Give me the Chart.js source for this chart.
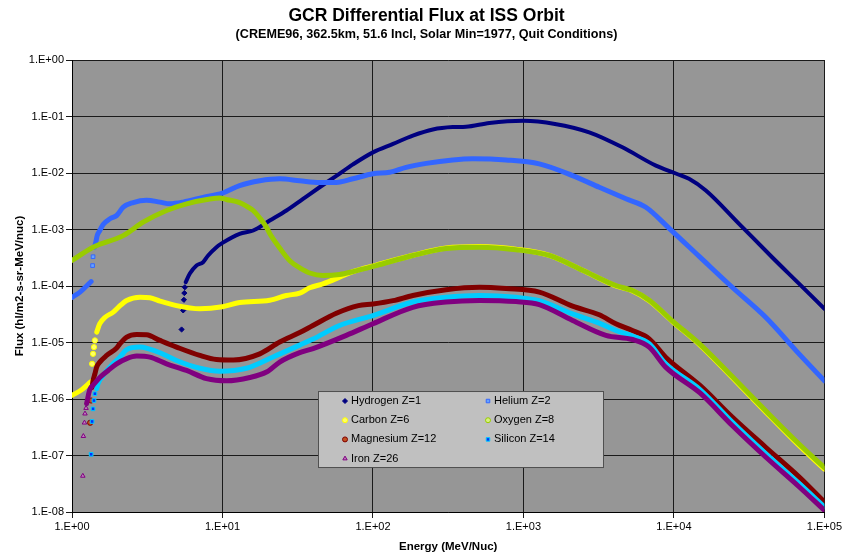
<!DOCTYPE html>
<html>
<head>
<meta charset="utf-8">
<title>GCR Differential Flux at ISS Orbit</title>
<script src="https://cdn.jsdelivr.net/npm/chart.js@4.4.1/dist/chart.umd.min.js"></script>
<style>
  html, body { margin: 0; padding: 0; background: #fff; }
  #wrap { width: 844px; height: 555px; position: relative; }
</style>
</head>
<body>
<div id="wrap"><canvas id="chart"></canvas></div>
<script>
// [energy MeV/nuc, flux] pairs
const hydrogenSparse = [[5.35, 1.7e-5], [5.48, 3.7e-5], [5.54, 5.7e-5], [5.58, 7.5e-5], [5.62, 9.5e-5]];
const hydrogen = [
    [5.70, 1.17e-4], [6.07, 1.66e-4], [6.72, 2.31e-4], [7.43, 2.64e-4], [8.03, 3.47e-4], [9.12, 4.87e-4],
    [10, 5.8e-4], [13, 8.4e-4], [16, 9.6e-4], [20.6, 1.44e-3], [26.6, 2.17e-3], [34.3, 3.49e-3],
    [44.2, 5.6e-3], [57.1, 8.9e-3], [73.6, 1.42e-2], [100, 2.32e-2], [136, 3.27e-2], [184, 4.59e-2],
    [250, 5.9e-2], [339, 6.5e-2], [415, 6.6e-2], [594, 7.7e-2], [1000, 8.4e-2], [1620, 7.4e-2],
    [2736, 5.25e-2], [4550, 2.85e-2], [7590, 1.35e-2], [10300, 9.8e-3], [12600, 7.9e-3], [16300, 4.9e-3],
    [27100, 1.26e-3], [45100, 3.2e-4], [67800, 1.1e-4], [100000, 3.95e-5]
];

const heliumLow = [[1.0, 6.3e-5], [1.13, 7.8e-5], [1.25, 1.0e-4], [1.34, 1.2e-4]];
const heliumSparse = [[1.37, 2.3e-4], [1.38, 3.3e-4]];
const helium = [
    [1.41, 4.9e-4], [1.44, 6.0e-4], [1.47, 7.8e-4], [1.53, 9.6e-4], [1.61, 1.23e-3], [1.79, 1.55e-3],
    [1.98, 1.77e-3], [2.19, 2.48e-3], [2.55, 3.0e-3], [3.13, 3.3e-3], [3.84, 3.05e-3], [4.47, 2.85e-3],
    [5.48, 3.05e-3], [7.43, 3.7e-3], [10, 4.4e-3], [13, 6.0e-3], [17.7, 7.3e-3], [24, 7.9e-3],
    [32.6, 7.3e-3], [44.2, 6.8e-3], [57.1, 6.8e-3], [73.6, 7.9e-3], [100, 9.7e-3], [129, 1.03e-2],
    [166, 1.26e-2], [226, 1.48e-2], [339, 1.7e-2], [460, 1.78e-2], [766, 1.7e-2], [1274, 1.45e-2],
    [2120, 9.0e-3], [3190, 5.6e-3], [4800, 3.5e-3], [6510, 2.48e-3], [9300, 1.05e-3], [14900, 3.24e-4],
    [24400, 9.5e-5], [40700, 2.8e-5], [67800, 6.3e-6], [100000, 2.1e-6]
];

const carbonLow = [[1.0, 1.16e-6], [1.16, 1.46e-6], [1.33, 2.0e-6]];
const carbonSparse = [[1.36, 4.2e-6], [1.38, 6.3e-6], [1.40, 8.3e-6], [1.42, 1.09e-5]];
const carbon = [
    [1.46, 1.53e-5], [1.53, 2.15e-5], [1.66, 2.8e-5], [1.88, 3.45e-5], [2.03, 4.2e-5], [2.31, 5.55e-5],
    [2.83, 6.35e-5], [3.29, 6.2e-5], [3.84, 5.4e-5], [4.95, 4.5e-5], [7.07, 3.96e-5], [10, 4.3e-5],
    [13, 5.1e-5], [20.6, 5.6e-5], [26.6, 6.8e-5], [32.6, 7.5e-5], [38, 9.3e-5], [46.5, 1.09e-4],
    [60, 1.43e-4], [73.6, 1.8e-4], [105, 2.35e-4], [184, 3.5e-4], [306, 4.7e-4], [510, 5.0e-4],
    [893, 4.5e-4], [1486, 3.5e-4], [2470, 1.9e-4], [4110, 1.0e-4], [5300, 8.2e-5], [6850, 5.5e-5],
    [9780, 2.35e-5], [14900, 9.0e-6], [24400, 2.4e-6], [40700, 5.9e-7], [67800, 1.5e-7], [100000, 5.7e-8]
];

const oxygen = [
    [1.0, 2.83e-4], [1.38, 4.87e-4], [2.19, 7.8e-4], [2.97, 1.35e-3], [4.25, 2.17e-3], [5.77, 2.84e-3],
    [8.24, 3.46e-3], [9.6, 3.6e-3], [10.6, 3.4e-3], [13, 3.0e-3], [14.4, 2.6e-3], [16, 2.17e-3],
    [17.7, 1.6e-3], [19.6, 1.1e-3], [20.6, 8.5e-4], [24, 4.7e-4], [28, 2.8e-4], [32.6, 2.1e-4],
    [38, 1.7e-4], [46.5, 1.54e-4], [60, 1.6e-4], [73.6, 1.8e-4], [105, 2.3e-4], [184, 3.47e-4],
    [306, 4.6e-4], [510, 4.87e-4], [893, 4.4e-4], [1486, 3.47e-4], [2470, 1.9e-4], [4110, 1.02e-4],
    [5300, 8.3e-5], [6850, 5.6e-5], [9780, 2.4e-5], [14900, 9.3e-6], [24400, 2.5e-6], [40700, 6.2e-7],
    [67800, 1.6e-7], [100000, 6.1e-8]
];

const magnesiumSparse = [[1.32, 3.8e-7], [1.34, 9.4e-7]];
const magnesium = [
    [1.36, 1.6e-6], [1.38, 2.1e-6], [1.42, 2.8e-6], [1.46, 3.7e-6], [1.53, 4.5e-6], [1.70, 5.9e-6],
    [1.98, 8.0e-6], [2.08, 9.5e-6], [2.31, 1.25e-5], [2.69, 1.39e-5], [3.13, 1.37e-5], [3.84, 1.09e-5],
    [4.95, 8.3e-6], [7.07, 5.9e-6], [9.12, 5.0e-6], [11.8, 4.9e-6], [17.7, 6.3e-6], [24, 1.02e-5],
    [32.6, 1.5e-5], [39.9, 2.0e-5], [57.1, 3.3e-5], [80, 4.5e-5], [100, 4.8e-5], [136, 5.5e-5],
    [184, 6.8e-5], [306, 8.6e-5], [510, 9.5e-5], [766, 9.0e-5], [1274, 7.8e-5], [2120, 4.4e-5],
    [3190, 3.1e-5], [4110, 2.15e-5], [5300, 1.63e-5], [6850, 1.16e-5], [8810, 5.5e-6], [14900, 1.74e-6],
    [24400, 4.8e-7], [40700, 1.4e-7], [67800, 4.2e-8], [100000, 1.5e-8]
];

const siliconSparse = [[1.34, 1.05e-7], [1.36, 4.0e-7], [1.38, 6.7e-7], [1.40, 9.4e-7], [1.42, 1.24e-6]];
const silicon = [
    [1.46, 1.52e-6], [1.49, 1.87e-6], [1.57, 2.4e-6], [1.79, 3.7e-6], [2.08, 5.5e-6], [2.31, 7.5e-6],
    [2.83, 8.3e-6], [3.2, 7.8e-6], [3.84, 6.6e-6], [4.95, 4.8e-6], [7.07, 3.5e-6], [9.6, 3.1e-6],
    [14.4, 3.5e-6], [21.5, 5.5e-6], [32.6, 9.0e-6], [40, 1.15e-5], [60, 2.0e-5], [100, 3.0e-5],
    [184, 5.2e-5], [306, 6.3e-5], [510, 6.8e-5], [893, 6.3e-5], [1274, 5.5e-5], [2120, 3.2e-5],
    [3190, 2.2e-5], [4110, 1.63e-5], [5300, 1.3e-5], [6850, 9.5e-6], [8810, 4.2e-6], [14900, 1.47e-6],
    [24400, 3.9e-7], [40700, 1.08e-7], [67800, 3.2e-8], [100000, 1.23e-8]
];

const ironSparse = [[1.18, 4.35e-8], [1.19, 2.2e-7], [1.21, 3.8e-7], [1.22, 5.5e-7], [1.24, 6.9e-7]];
const iron = [
    [1.25, 8.3e-7], [1.27, 1.0e-6], [1.29, 1.24e-6], [1.32, 1.52e-6], [1.38, 1.75e-6], [1.53, 2.4e-6],
    [1.74, 3.2e-6], [1.98, 4.2e-6], [2.31, 5.2e-6], [2.69, 5.75e-6], [3.29, 5.5e-6], [4.25, 4.2e-6],
    [5.77, 3.2e-6], [7.83, 2.3e-6], [10.6, 2.1e-6], [15.2, 2.4e-6], [19.6, 3.0e-6], [24, 4.5e-6],
    [32.6, 6.6e-6], [40, 7.8e-6], [66.5, 1.34e-5], [100, 2.15e-5], [184, 4.2e-5], [306, 5.2e-5],
    [510, 5.55e-5], [893, 5.3e-5], [1274, 4.7e-5], [2120, 2.46e-5], [3530, 1.34e-5], [5300, 1.13e-5],
    [6850, 8.3e-6], [8810, 3.67e-6], [14900, 1.28e-6], [24400, 3.4e-7], [40700, 9.4e-8], [67800, 2.8e-8],
    [100000, 1.07e-8]
];

const xTicks = [1, 10, 100, 1000, 10000, 100000];
const xTickLabels = ['1.E+00', '1.E+01', '1.E+02', '1.E+03', '1.E+04', '1.E+05'];
const yTicks = [1e-8, 1e-7, 1e-6, 1e-5, 1e-4, 1e-3, 1e-2, 1e-1, 1];
const yTickLabels = ['1.E-08', '1.E-07', '1.E-06', '1.E-05', '1.E-04', '1.E-03', '1.E-02', '1.E-01', '1.E+00'];

const font = "'Liberation Sans', Arial, sans-serif";

// one entry per element: continuous pieces (lines) and the scattered points near the cutoff
const series = [
    { label: 'Hydrogen Z=1', lines: [hydrogen], points: hydrogenSparse, color: '#000080', inner: '#000080', marker: 'rectRot', width: 4 },
    { label: 'Helium Z=2', lines: [heliumLow, helium], points: heliumSparse, color: '#3366FF', inner: '#66A3FF', marker: 'rect', width: 5 },
    { label: 'Carbon Z=6', lines: [carbonLow, carbon], points: carbonSparse, color: '#FFFF00', inner: '#FFFF66', marker: 'circle', width: 5 },
    { label: 'Oxygen Z=8', lines: [oxygen], points: [], color: '#99CC00', inner: '#D6F080', marker: 'circle', width: 5 },
    { label: 'Magnesium Z=12', lines: [magnesium], points: magnesiumSparse, color: '#800000', inner: '#C05020', marker: 'circle', width: 5 },
    { label: 'Silicon Z=14', lines: [silicon], points: siliconSparse, color: '#00CCFF', inner: '#0033FF', marker: 'rect', width: 5 },
    { label: 'Iron Z=26', lines: [iron], points: ironSparse, color: '#800080', inner: '#C080C0', marker: 'triangle', width: 5 }
];

const toXY = arr => arr.map(([x, y]) => ({ x: x, y: y }));

const datasets = [];
series.forEach((s, i) => {
    // Excel draws later series on top; in Chart.js lower order is drawn last
    const order = series.length - i;
    s.lines.forEach(piece => {
        datasets.push({
            label: s.label,
            data: toXY(piece),
            showLine: true,
            borderColor: s.color,
            borderWidth: s.width,
            borderCapStyle: 'round',
            borderJoinStyle: 'round',
            cubicInterpolationMode: 'monotone',
            pointRadius: 0,
            fill: false,
            order: order
        });
    });
    if (s.points.length) {
        datasets.push({
            label: s.label,
            data: toXY(s.points),
            showLine: false,
            pointStyle: s.marker,
            pointRadius: 2.6,
            pointBorderWidth: 1,
            pointBorderColor: s.color,
            pointBackgroundColor: s.inner,
            order: order
        });
    }
});

const plotBackground = {
    id: 'plotBackground',
    beforeDraw(chart) {
        const { ctx, chartArea: a } = chart;
        ctx.save();
        ctx.fillStyle = '#969696';
        ctx.fillRect(a.left, a.top, a.right - a.left, a.bottom - a.top);
        ctx.restore();
    }
};

// legend box sitting inside the plot, two columns like the Excel one
const boxLegend = {
    id: 'boxLegend',
    afterDraw(chart) {
        const { ctx, chartArea: a } = chart;
        const left = a.left + 246, top = a.top + 331, w = 285, h = 76;
        ctx.save();
        ctx.fillStyle = '#C0C0C0';
        ctx.fillRect(left, top, w, h);
        ctx.strokeStyle = '#505050';
        ctx.lineWidth = 1;
        ctx.strokeRect(left + 0.5, top + 0.5, w, h);
        ctx.font = '11px ' + font;
        ctx.textBaseline = 'middle';
        series.forEach((s, i) => {
            const col = i % 2, row = Math.floor(i / 2);
            const mx = left + 27 + col * 143;
            const my = top + 10 + row * 19.2;
            ctx.fillStyle = s.inner;
            ctx.strokeStyle = s.color;
            Chart.helpers.drawPoint(ctx, { pointStyle: s.marker, radius: 2.5, borderWidth: 1, rotation: 0 }, mx, my);
            ctx.fillStyle = '#000';
            ctx.fillText(s.label, mx + 6, my);
        });
        ctx.restore();
    }
};

new Chart(document.getElementById('chart'), {
    type: 'scatter',
    data: { datasets: datasets },
    plugins: [plotBackground, boxLegend],
    options: {
        responsive: true,
        maintainAspectRatio: false,
        animation: false,
        events: [],
        layout: { padding: { left: 26, right: 17, top: 0, bottom: 0 } },
        plugins: {
            legend: { display: false },
            tooltip: { enabled: false },
            title: {
                display: true,
                text: 'GCR Differential Flux at ISS Orbit',
                color: '#000',
                font: { family: font, size: 17.5, weight: 'bold' },
                padding: { top: 6, bottom: 0 }
            },
            subtitle: {
                display: true,
                text: '(CREME96, 362.5km, 51.6 Incl, Solar Min=1977, Quit Conditions)',
                color: '#000',
                font: { family: font, size: 12.6, weight: 'bold' },
                padding: { top: 0, bottom: 17.9 }
            }
        },
        scales: {
            x: {
                type: 'logarithmic',
                min: 1,
                max: 100000,
                afterBuildTicks: scale => { scale.ticks = xTicks.map(v => ({ value: v })); },
                afterFit: scale => { scale.height = 43; },
                ticks: {
                    callback: (v, i) => xTickLabels[i],
                    color: '#000',
                    font: { family: font, size: 11 },
                    padding: 2,
                    maxRotation: 0,
                    autoSkip: false
                },
                grid: { color: '#1a1a1a', lineWidth: 1, tickLength: 6 },
                border: { color: '#000', width: 1 },
                title: {
                    display: true,
                    text: 'Energy (MeV/Nuc)',
                    color: '#000',
                    font: { family: font, size: 11.5, weight: 'bold' },
                    padding: { top: 0, bottom: 1 }
                }
            },
            y: {
                type: 'logarithmic',
                min: 1e-8,
                max: 1,
                afterBuildTicks: scale => { scale.ticks = yTicks.map(v => ({ value: v })); },
                afterFit: scale => { scale.width = 46; },
                ticks: {
                    callback: (v, i) => yTickLabels[i],
                    color: '#000',
                    font: { family: font, size: 11 },
                    padding: 2,
                    autoSkip: false
                },
                grid: { color: '#1a1a1a', lineWidth: 1, tickLength: 6 },
                border: { color: '#000', width: 1 },
                title: {
                    display: true,
                    text: 'Flux (hl/m2-s-sr-MeV/nuc)',
                    color: '#000',
                    font: { family: font, size: 11.5, weight: 'bold' },
                    // axis box is kept narrow so the page title centres like the original; pull the label out left
                    padding: { top: -13, bottom: 0 }
                }
            }
        }
    }
});
</script>
</body>
</html>
